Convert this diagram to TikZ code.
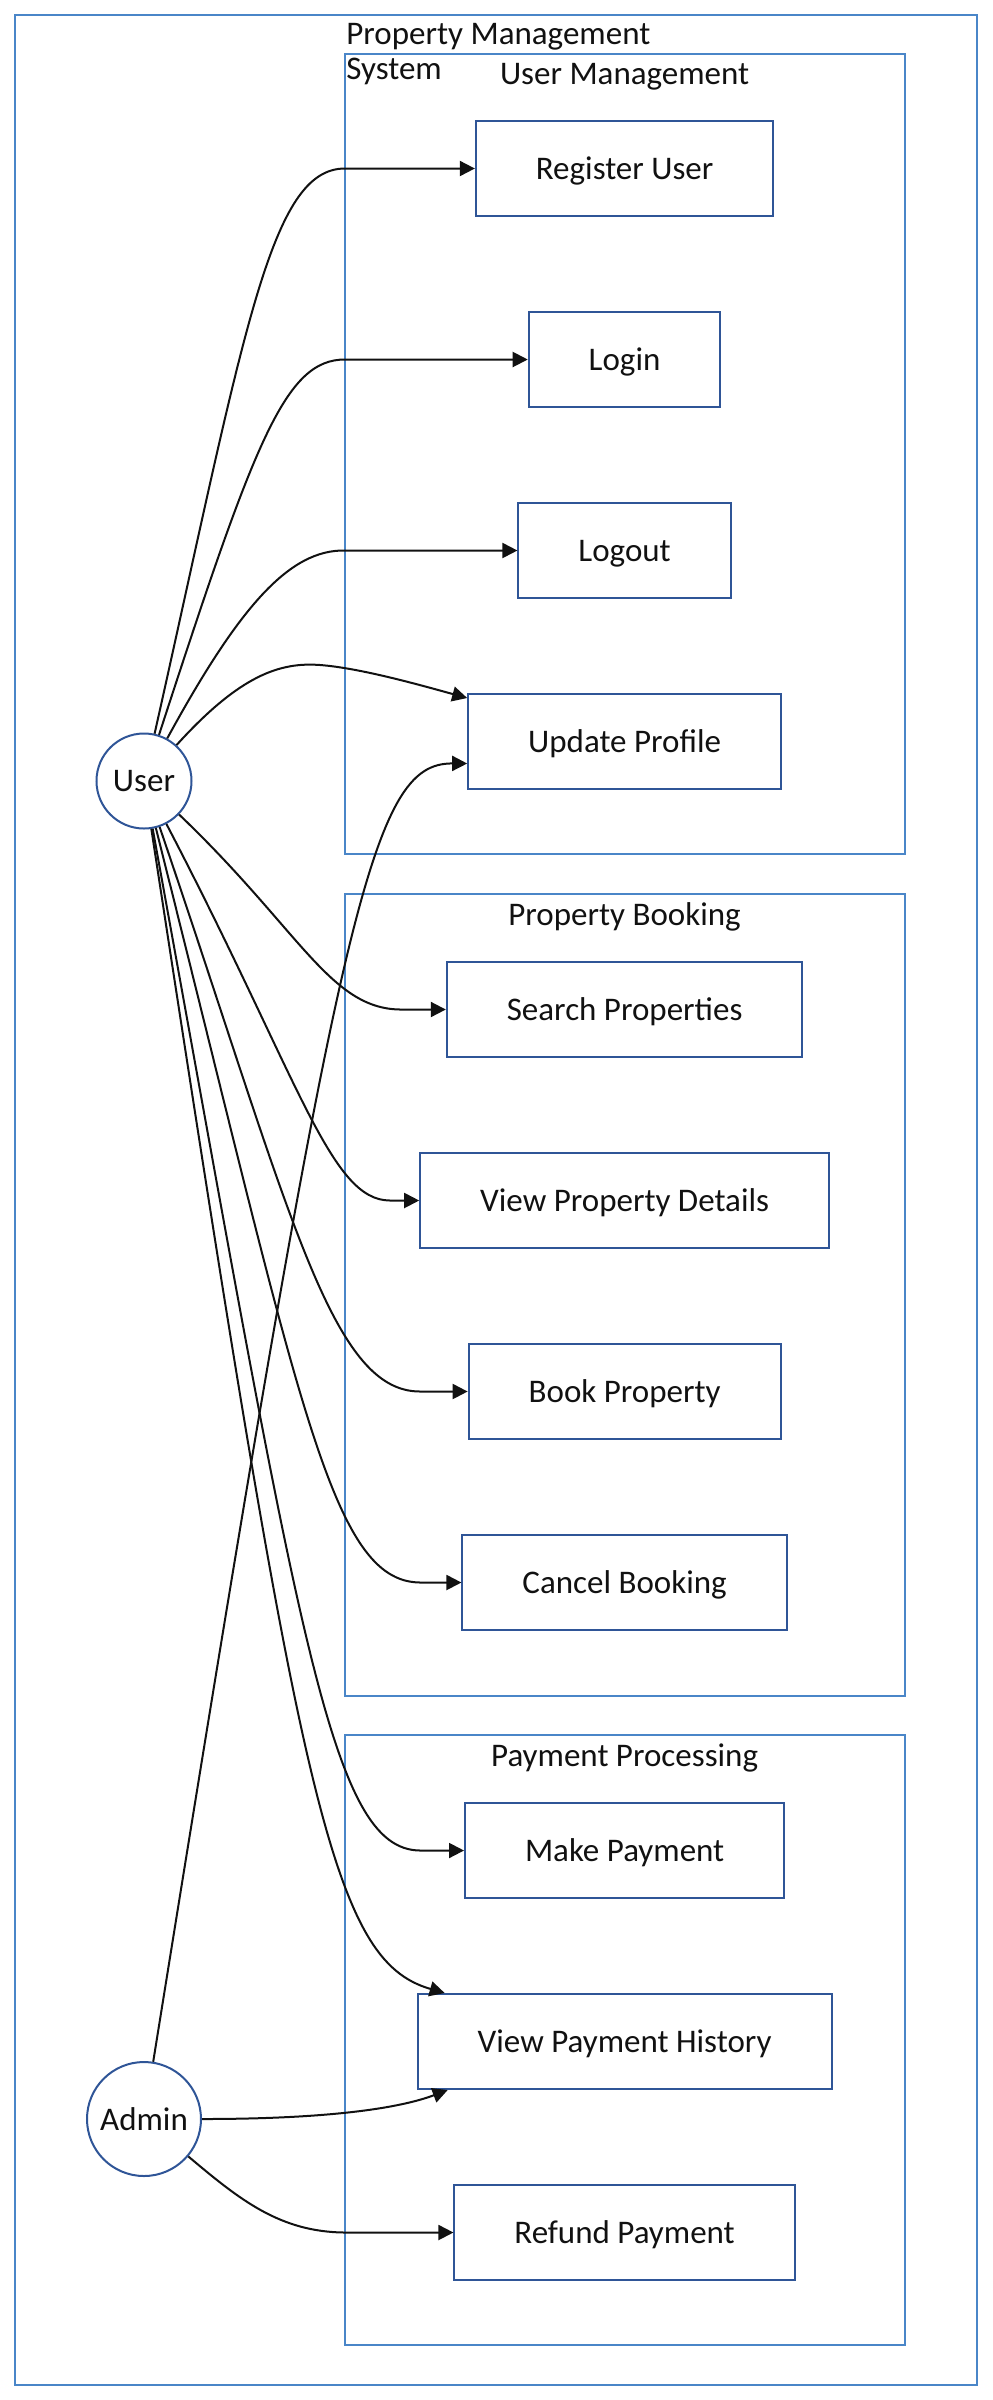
\documentclass[tikz,border=0pt]{standalone}
\usepackage{fontspec}
\setmainfont{Carlito}
\usepackage{xcolor}
\usepackage{tikz}
\usetikzlibrary{arrows.meta,positioning}
\definecolor{frameblue}{HTML}{4A86C8}
\definecolor{boxblue}{HTML}{2F5597}
\definecolor{ink}{HTML}{111111}

\begin{document}
\begin{tikzpicture}[x=0.5pt,y=-0.5pt,
  usecase/.style={draw=boxblue,line width=1pt,minimum height=47.5pt,inner xsep=30pt,inner ysep=0pt,text depth=0pt,font=\fontsize{16.5}{18}\selectfont,text=ink},
  actor/.style={circle,draw=boxblue,line width=1pt,inner sep=0pt,font=\fontsize{16.5}{18}\selectfont,text=ink},
  group/.style={draw=frameblue,line width=1pt},
  grouptitle/.style={inner sep=0pt,font=\fontsize{16.5}{17.5}\selectfont,text=ink},
  arr/.style={-{Triangle[length=7.5pt,width=7.5pt]},line width=1pt,draw=ink}
]
\useasboundingbox (0,0) rectangle (992,2400);
\draw[group] (15.3,15.3) rectangle (976.7,2385);
\node[grouptitle,anchor=west,align=left] (systitle) at (346,54.5) {Property Management\\System};

% clusters
\draw[group] (344.5,53.6) rectangle (904.8,854);
\draw[group] (344.5,894) rectangle (904.8,1696);
\draw[group] (344.5,1734.5) rectangle (904.8,2345);
\node[grouptitle] (usertitle) at (624.6,76.5) {User Management};
\node[grouptitle] (booktitle) at (624.6,917) {Property Booking};
\node[grouptitle] (paytitle) at (624.6,1758) {Payment Processing};

% use cases
\node[usecase] (reg) at (624.6,168.5) {Register User};
\node[usecase,below=47pt of reg] (login) {Login};
\node[usecase,below=47pt of login] (logout) {Logout};
\node[usecase,below=47pt of logout] (upd) {Update Profile};
\node[usecase,below=85.5pt of upd] (search) {Search Properties};
\node[usecase,below=47pt of search] (vpd) {View Property Details};
\node[usecase,below=47pt of vpd] (book) {Book Property};
\node[usecase,below=47pt of book] (cancel) {Cancel Booking};
\node[usecase,below=85.5pt of cancel] (makepay) {Make Payment};
\node[usecase,below=47pt of makepay] (vph) {View Payment History};
\node[usecase,below=47pt of vph] (refund) {Refund Payment};

% actors
\node[actor,minimum size=47.5pt] (user) at (144,781) {User};
\node[actor,minimum size=57pt] (admin) at (144,2119) {Admin};

% user links
\draw[arr] (user) .. controls (245,330) and (270,168.5) .. (reg.west -| 345,0) -- (reg);
\draw[arr] (user) .. controls (255,440) and (285,359.5) .. (login.west -| 345,0) -- (login);
\draw[arr] (user) .. controls (240,605) and (290,549.5) .. (logout.west -| 345,0) -- (logout);
\draw[arr] (user) .. controls (240,675) and (280,662) .. (320,665) .. controls (360,668) and (420,685) .. ([yshift=-2.5pt]upd.north west);
\draw[arr] (user) .. controls (300,930) and (330,1008.5) .. (search.west -| 400,0) -- (search);
\draw[arr] (user) .. controls (300,1080) and (330,1200.5) .. (vpd.west -| 390,0) -- (vpd);
\draw[arr] (user) .. controls (290,1210) and (330,1391.5) .. (book.west -| 420,0) -- (book);
\draw[arr] (user) .. controls (300,1400) and (330,1581.5) .. (cancel.west -| 420,0) -- (cancel);
\draw[arr] (user) .. controls (300,1640) and (330,1849.5) .. (makepay.west -| 420,0) -- (makepay);
\draw[arr] (user) .. controls (300,1800) and (330,1960) .. ([xshift=14pt]vph.north west);

% admin links
\draw[arr] (admin) .. controls (340,900) and (370,763) .. ([yshift=-11pt]upd.west);
\draw[arr] (admin) .. controls (330,2119) and (400,2108) .. ([xshift=15.5pt]vph.south west);
\draw[arr] (admin) .. controls (240,2200) and (280,2232) .. (refund.west -| 345,0) -- (refund);
\end{tikzpicture}
\end{document}
